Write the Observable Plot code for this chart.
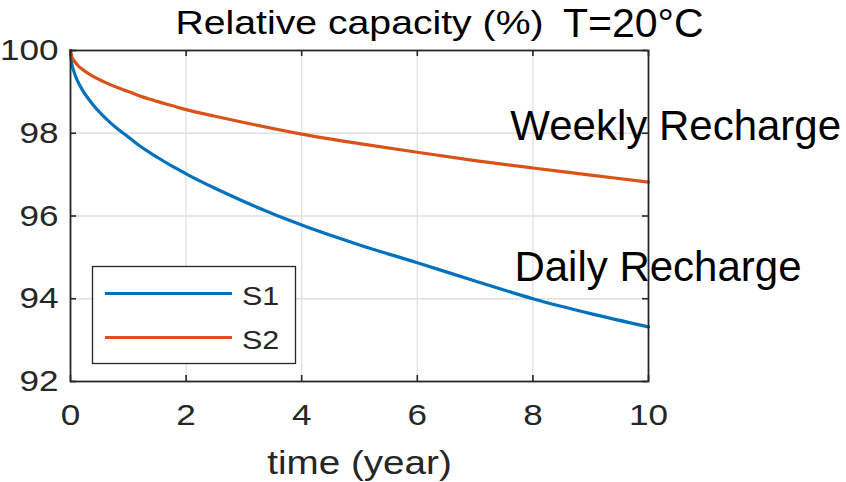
<!DOCTYPE html>
<html>
<head>
<meta charset="utf-8">
<script src="https://cdn.jsdelivr.net/npm/d3@7"></script>
<script src="https://cdn.jsdelivr.net/npm/@observablehq/plot@0.6"></script>
<style>
  html, body { margin: 0; padding: 0; background: #fff; }
  #chart { width: 846px; height: 482px; overflow: hidden; }
</style>
</head>
<body>
<div id="chart"></div>
<script>
// ---- data ----
const years = [0, 0.02, 0.05, 0.12, 0.25, 0.4, 0.6, 0.8, 1, 1.2, 1.5, 1.75, 2, 2.5, 3, 4, 5, 6, 7, 8, 9, 10];
const s1 = [100, 99.70, 99.53, 99.27, 98.95, 98.67, 98.37, 98.12, 97.91, 97.69, 97.42, 97.21, 97.02, 96.67, 96.35, 95.78, 95.30, 94.87, 94.43, 94.00, 93.64, 93.32];
const s2 = [100, 99.86, 99.78, 99.65, 99.50, 99.37, 99.23, 99.11, 99.01, 98.90, 98.77, 98.67, 98.57, 98.41, 98.26, 97.98, 97.75, 97.54, 97.34, 97.16, 96.99, 96.82];
const seriesNames = ["S1", "S2"];
const seriesColors = ["#0072BD", "#D95319"];
const xTicks = [0, 2, 4, 6, 8, 10];
const yTicks = [92, 94, 96, 98, 100];
const titleText = "Relative capacity (%)";
const xLabel = "time (year)";
const annotations = [
  {label: "T=20°C", x: 8.52, y: 100.33},
  {label: "Weekly Recharge", x: 7.61, y: 97.83},
  {label: "Daily Recharge", x: 7.68, y: 94.42}
];

const rows = [];
years.forEach((t, i) => {
  rows.push({t, v: s1[i], s: seriesNames[0]});
  rows.push({t, v: s2[i], s: seriesNames[1]});
});

const W = 846, H = 482;
const mL = 70, mR = 198, mT = 50, mB = 101;
const fw = W - mL - mR, fh = H - mT - mB;
const tickLen = 6;
const axisColor = "#262626";
const lineW = 3.2;
const font = "'Liberation Sans', Arial, Helvetica, sans-serif";

const svg = Plot.plot({
  width: W, height: H,
  marginLeft: mL, marginRight: mR, marginTop: mT, marginBottom: mB,
  style: {fontFamily: font, background: "#fff", overflow: "visible"},
  x: {domain: [0, 10]},
  y: {domain: [92, 100]},
  color: {domain: seriesNames, range: seriesColors},
  marks: [
    Plot.ruleX(xTicks.slice(1, -1), {stroke: "#e0e0e0", strokeWidth: 1.3}),
    Plot.ruleY(yTicks.slice(1, -1), {stroke: "#e0e0e0", strokeWidth: 1.3}),
    Plot.line(rows, {x: "t", y: "v", z: "s", stroke: "s", strokeWidth: lineW, curve: "monotone-x", strokeLinejoin: "round"}),
    // inner ticks (MATLAB style)
    Plot.ruleX(xTicks, {stroke: axisColor, strokeWidth: 1.6, insetTop: fh - tickLen}),
    Plot.ruleX(xTicks, {stroke: axisColor, strokeWidth: 1.6, insetBottom: fh - tickLen}),
    Plot.ruleY(yTicks, {stroke: axisColor, strokeWidth: 1.6, insetRight: fw - tickLen}),
    Plot.ruleY(yTicks, {stroke: axisColor, strokeWidth: 1.6, insetLeft: fw - tickLen}),
    Plot.frame({stroke: axisColor, strokeWidth: 1.8}),
    Plot.axisX(xTicks, {tickSize: 0, tickPadding: 22, fontSize: 30, fill: axisColor, label: null}),
    Plot.axisY(yTicks, {tickSize: 0, tickPadding: 12, fontSize: 30, fill: axisColor, label: null}),
    Plot.text([titleText], {frameAnchor: "top", lineAnchor: "bottom", dy: -17, fontSize: 33.5, fill: "#000"}),
    Plot.text([xLabel], {frameAnchor: "bottom", lineAnchor: "bottom", dy: 92, fontSize: 33, fill: axisColor}),
    Plot.text(annotations.slice(0, 1), {x: "x", y: "y", text: "label", textAnchor: "start", lineAnchor: "bottom", fontSize: 41, fill: "#000"}),
    Plot.text(annotations.slice(1), {x: "x", y: "y", text: "label", textAnchor: "start", lineAnchor: "bottom", fontSize: 42, fill: "#000"})
  ]
});

document.getElementById("chart").appendChild(svg);

// legend (drawn in pixel space of the figure, like MATLAB's legend box)
const lg = d3.select(svg).append("g").attr("font-family", font).attr("text-anchor", "start");
lg.append("rect").attr("x", 92.5).attr("y", 266.5).attr("width", 203).attr("height", 97)
  .attr("fill", "#fff").attr("stroke", axisColor).attr("stroke-width", 1.3);
seriesNames.forEach((name, i) => {
  const cy = 293.5 + i * 44;
  lg.append("line").attr("x1", 105).attr("x2", 232).attr("y1", cy).attr("y2", cy)
    .attr("stroke", seriesColors[i]).attr("stroke-width", lineW);
  lg.append("text").attr("x", 242).attr("y", cy + 11.5).attr("font-size", 26)
    .attr("text-anchor", "start").attr("fill", axisColor).text(name);
});

// MATLAB's axes text in this figure is horizontally stretched; reproduce with textLength
const plain = new Set(annotations.map(a => a.label));
svg.querySelectorAll("text").forEach(t => {
  if (plain.has(t.textContent)) return;
  const L = t.getComputedTextLength();
  if (L > 0) {
    t.setAttribute("textLength", (L * 1.17).toFixed(2));
    t.setAttribute("lengthAdjust", "spacingAndGlyphs");
  }
});
</script>
</body>
</html>
